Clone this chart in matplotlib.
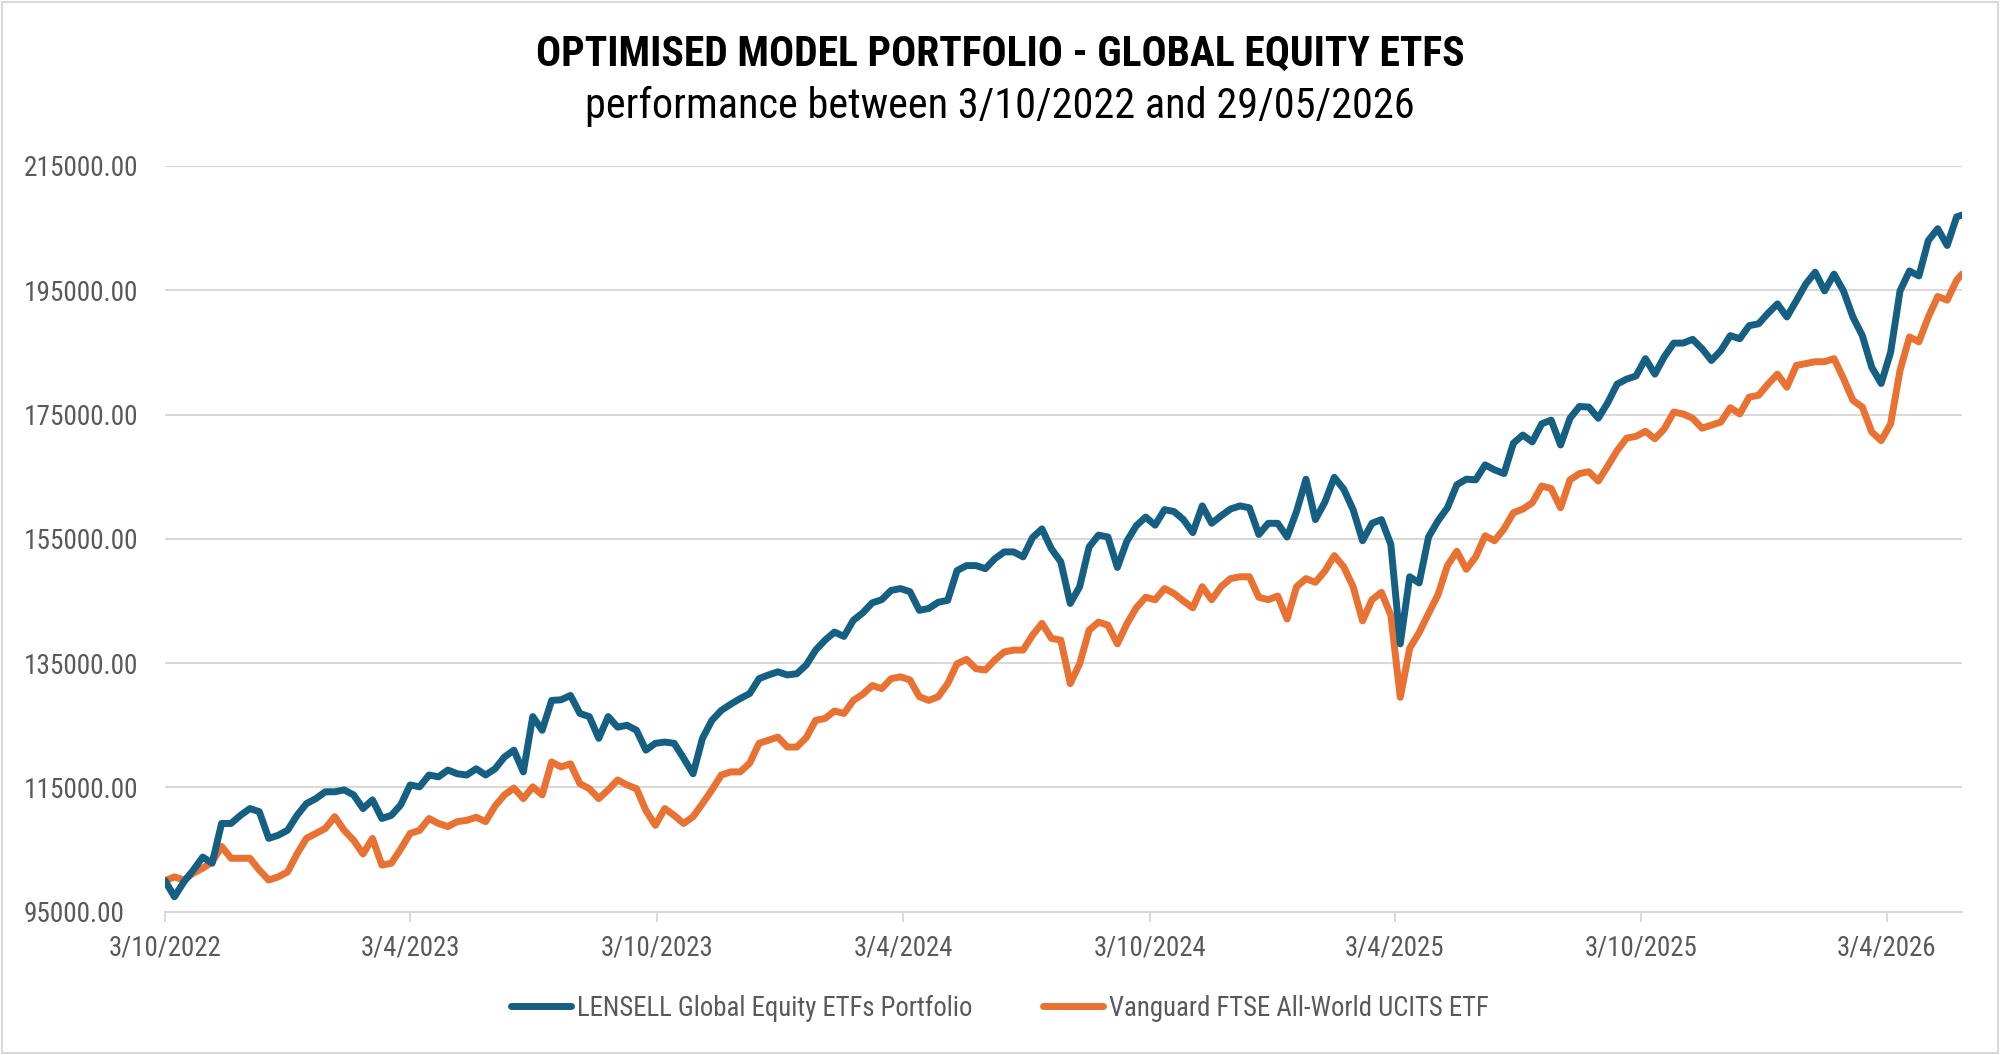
import matplotlib
matplotlib.use("Agg")
import matplotlib.pyplot as plt
import matplotlib.dates as mdates
from matplotlib import font_manager as fm
from matplotlib.ticker import FixedLocator, FuncFormatter
from matplotlib.patches import Rectangle
import pandas as pd

# ---------------- data (weekly readings, 3/10/2022 .. 29/05/2026) ----------------
start_date = "2022-10-03"
end_date = "2026-05-29"

lensell = [
    100000, 97400, 99800, 101700, 103800, 102800, 109200, 109200, 110500, 111600,
    111100, 106800, 107300, 108100, 110500, 112400, 113200, 114300, 114300, 114600,
    113800, 111600, 113000, 110000, 110500, 112200, 115400, 115100, 117000, 116700,
    117800, 117200, 117000, 118000, 117000, 118000, 119900, 121000, 117500, 126400,
    124200, 129000, 129100, 129800, 126900, 126400, 122900, 126400, 124700, 125000,
    124200, 121000, 122100, 122300, 122100, 119700, 117200, 122900, 125800, 127400,
    128400, 129300, 130100, 132500, 133100, 133600, 133100, 133300, 134700, 137100,
    138700, 140000, 139300, 141900, 143100, 144700, 145200, 146700, 147000, 146500,
    143500, 143800, 144800, 145100, 149900, 150700, 150700, 150200, 151800, 152900,
    152900, 152100, 155200, 156600, 153400, 151300, 144600, 147300, 153700, 155600,
    155300, 150400, 154600, 157100, 158500, 157200, 159700, 159400, 158100, 156000,
    160300, 157500, 158700, 159800, 160300, 160000, 155700, 157500, 157500, 155300,
    159400, 164600, 158100, 160900, 164900, 163000, 159700, 154700, 157500, 158100,
    154100, 138100, 148900, 147900, 155300, 157900, 160000, 163700, 164600, 164500,
    166900, 166100, 165500, 170400, 171700, 170600, 173500, 174100, 170100, 174400,
    176300, 176200, 174400, 176900, 179900, 180700, 181200, 184000, 181500, 184300,
    186500, 186500, 187100, 185600, 183700, 185300, 187700, 187200, 189300, 189600,
    191300, 192800, 190700, 193300, 196000, 197900, 194900, 197600, 194900, 190700,
    187700, 182600, 180000, 185000, 194900, 198100, 197300, 203000, 204900, 202200,
    206800, 207100,
]

vanguard = [
    100000, 100600, 100100, 101200, 102000, 103000, 105500, 103600, 103600, 103600,
    101700, 100100, 100600, 101400, 104300, 106800, 107600, 108400, 110300, 108100,
    106500, 104300, 106800, 102500, 102800, 105100, 107600, 108100, 110000, 109200,
    108700, 109500, 109700, 110200, 109500, 112000, 113800, 114900, 113200, 115100,
    113800, 119100, 118300, 118800, 115600, 114800, 113200, 114600, 116200, 115400,
    114800, 111300, 108900, 111600, 110500, 109200, 110300, 112400, 114600, 117000,
    117500, 117500, 118900, 122100, 122600, 123100, 121500, 121500, 123000, 125800,
    126100, 127300, 126900, 129000, 130000, 131400, 130900, 132500, 132800, 132300,
    129600, 129000, 129600, 131700, 134900, 135600, 134100, 133900, 135500, 136800,
    137100, 137100, 139500, 141400, 139000, 138700, 131700, 134900, 140300, 141600,
    141100, 138100, 141300, 143900, 145600, 145200, 147000, 146200, 145000, 143900,
    147300, 145200, 147300, 148600, 148900, 148900, 145600, 145200, 145800, 142100,
    147300, 148600, 148000, 149800, 152300, 150500, 147300, 141800, 145200, 146400,
    142700, 129500, 137400, 139900, 143000, 146000, 150700, 153000, 150100, 152100,
    155500, 154700, 156600, 159200, 159800, 160800, 163500, 163100, 160000, 164500,
    165500, 165800, 164300, 166700, 169200, 171200, 171500, 172300, 171100, 172700,
    175400, 175100, 174400, 172800, 173300, 173800, 176100, 175100, 177800, 178100,
    179900, 181500, 179400, 182900, 183200, 183500, 183500, 184000, 180800, 177300,
    176200, 172200, 170800, 173500, 182100, 187500, 186700, 190700, 194000, 193400,
    196600, 197600,
]

series_names = ["LENSELL Global Equity ETFs Portfolio", "Vanguard FTSE All-World UCITS ETF"]
tick_dates = ["2022-10-03", "2023-04-03", "2023-10-03", "2024-04-03",
              "2024-10-03", "2025-04-03", "2025-10-03", "2026-04-03"]
y_ticks = [95000, 115000, 135000, 155000, 175000, 195000, 215000]
title = "OPTIMISED MODEL PORTFOLIO - GLOBAL EQUITY ETFS"
subtitle = "performance between 3/10/2022 and 29/05/2026"

# ---------------- build dates ----------------
weekly = pd.date_range(start_date, periods=len(lensell) - 1, freq="7D")
dates = list(weekly) + [pd.Timestamp(end_date)]

# ---------------- fonts: prefer a narrow face ----------------
ttf = fm.fontManager.ttflist
names = {f.name for f in ttf}
family, stretch = "Liberation Sans", "normal"
chosen = False
for cand in ["Liberation Sans Narrow", "Roboto Condensed", "Open Sans Condensed",
             "Noto Sans Condensed", "DejaVu Sans Condensed"]:
    if cand in names:
        family, chosen = cand, True
        break
if not chosen:
    for cand in ["Roboto", "Noto Sans", "Open Sans", "DejaVu Sans"]:
        if any(f.name == cand and "condensed" in str(f.stretch) for f in ttf):
            family, stretch = cand, "condensed"
            break
plt.rcParams["font.family"] = [family, "DejaVu Sans"]
plt.rcParams["font.stretch"] = stretch

BLUE = "#156082"
ORANGE = "#E97132"
GRID = "#D9D9D9"
TXT = "#595959"

fig = plt.figure(figsize=(20, 10.55), dpi=100)
ax = fig.add_axes([0.0825, 0.1358, 0.8985, 0.7069])

l1, = ax.plot(dates, lensell, color=BLUE, lw=5, solid_joinstyle="round",
              solid_capstyle="round", label=series_names[0], zorder=3)
l2, = ax.plot(dates, vanguard, color=ORANGE, lw=5, solid_joinstyle="round",
              solid_capstyle="round", label=series_names[1], zorder=2)

ax.set_xlim(pd.Timestamp(start_date), pd.Timestamp(end_date))
ax.set_ylim(y_ticks[0], y_ticks[-1])

ax.yaxis.set_major_locator(FixedLocator(y_ticks))
ax.yaxis.set_major_formatter(FuncFormatter(lambda v, p: f"{v:.2f}"))
tick_ts = [mdates.date2num(pd.Timestamp(d)) for d in tick_dates]
ax.xaxis.set_major_locator(FixedLocator(tick_ts))
ax.xaxis.set_major_formatter(FuncFormatter(
    lambda v, p: (lambda d: f"{d.day}/{d.month}/{d.year}")(mdates.num2date(v))))

ax.grid(axis="y", color=GRID, lw=1.5, zorder=0)
ax.set_axisbelow(True)
for s in ["top", "right", "left"]:
    ax.spines[s].set_visible(False)
ax.spines["bottom"].set_color(GRID)
ax.spines["bottom"].set_linewidth(1.5)

ax.tick_params(axis="x", length=7, width=1.5, color=GRID, pad=9.5,
               labelsize=20, labelcolor=TXT)
ax.tick_params(axis="y", length=0, pad=102, labelsize=20, labelcolor=TXT)

t_title = fig.text(0.5, 1 - 54 / 1055, title, ha="center", va="center",
                   fontsize=28, fontweight="bold", color="black")
t_sub = fig.text(0.5, 1 - 106 / 1055, subtitle, ha="center", va="center",
                 fontsize=30, color="black")

fig.canvas.draw()
renderer = fig.canvas.get_renderer()


def fitted(artist, target_px, size):
    w = artist.get_window_extent(renderer).width
    return size * target_px / w


t_title.set_fontsize(fitted(t_title, 931, 28))
t_sub.set_fontsize(fitted(t_sub, 829, 30))
ylab_size = fitted(ax.get_yticklabels()[-1], 115, 20)
xlab_size = fitted(ax.get_xticklabels()[0], 113, 20)
ax.tick_params(axis="y", labelsize=ylab_size)
ax.tick_params(axis="x", labelsize=xlab_size)
for lab in ax.get_yticklabels():
    lab.set_horizontalalignment("left")

probe = fig.text(0, 0, series_names[0], fontsize=20)
leg_size = fitted(probe, 396, 20)
probe.remove()
leg_px = leg_size * 100 / 72
leg = fig.legend(handles=[l1, l2], loc="center", bbox_to_anchor=(0.5, 1 - 1008 / 1055),
                 ncol=2, frameon=False, fontsize=leg_size, handlelength=60 / leg_px,
                 handletextpad=6 / leg_px, columnspacing=70 / leg_px)
for t in leg.get_texts():
    t.set_color(TXT)

fig.patches.append(Rectangle((0.001, 0.0015), 0.998, 0.997, transform=fig.transFigure,
                             fill=False, edgecolor=GRID, lw=1.5))

fig.savefig("out.png", dpi=100, facecolor="white")
